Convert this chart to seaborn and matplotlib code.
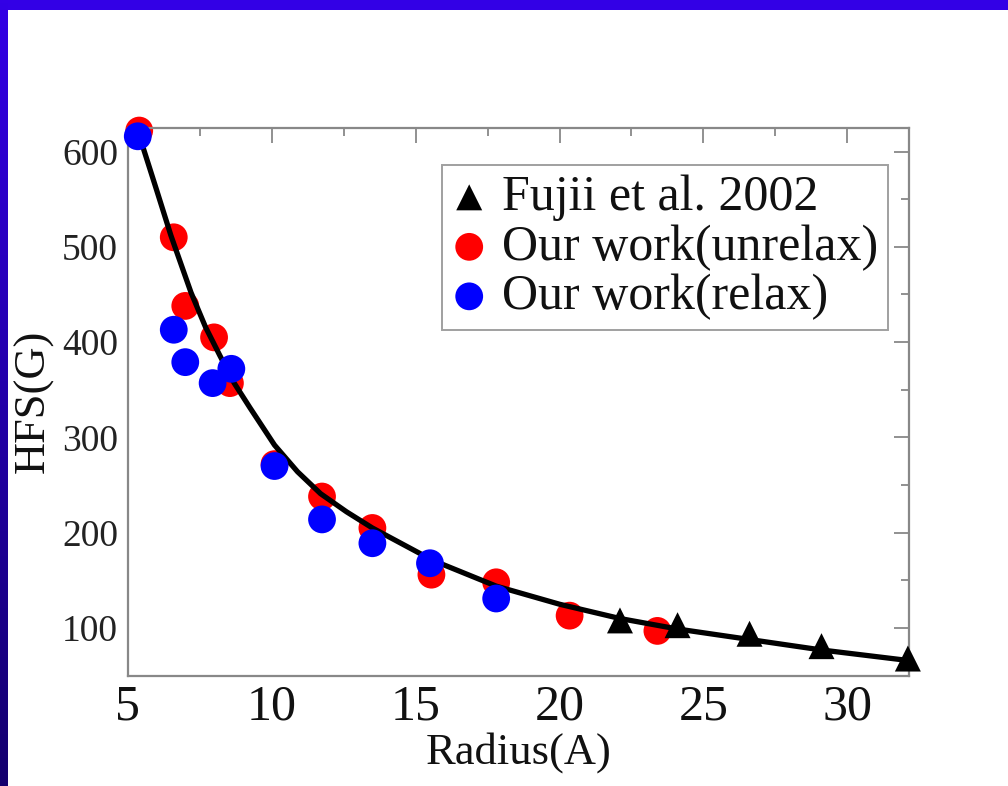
import numpy as np
import pandas as pd
import matplotlib
matplotlib.use("Agg")
import matplotlib.pyplot as plt
import seaborn as sns

# values
fujii_r = [22.1, 24.1, 26.6, 29.1, 32.1]
fujii_hfs = [108, 103, 94, 81, 68]

unrelax_r = [5.4, 6.6, 7.0, 8.0, 8.55, 10.1, 11.75, 13.5, 15.55, 17.8, 20.35, 23.4]
unrelax_hfs = [622, 510, 438, 405, 357, 272, 238, 205, 156, 148, 113, 97]

relax_r = [5.35, 6.6, 7.0, 7.95, 8.6, 10.1, 11.75, 13.5, 15.5, 17.8]
relax_hfs = [616, 413, 379, 357, 372, 270, 214, 189, 168, 131]

fit_r = [5.4, 6.0, 6.5, 7.2, 7.7, 8.2, 8.7, 9.25, 10.1, 10.9, 11.7, 12.6, 13.5, 15.6, 17.8, 20.0, 22.1, 24.1, 26.6, 29.1, 32.1]
fit_hfs = [617, 560, 512, 452, 416, 386, 357, 331, 292, 264, 241, 222, 205, 171, 144, 125, 110, 99, 88, 77, 66]

sns.set_theme(style="white")
plt.rcParams["font.family"] = ["Liberation Serif", "DejaVu Serif"]

W, H = 1008, 786
fig = plt.figure(figsize=(W / 100, H / 100), dpi=100, facecolor="white")

# slide frame: top band and left gradient band
top_band = fig.add_axes([0, 1 - 10 / H, 1, 10 / H])
top_band.set_facecolor("#3300e6")
top_band.set_xticks([])
top_band.set_yticks([])
for s in top_band.spines.values():
    s.set_visible(False)

left_band = fig.add_axes([0, 0, 8 / W, 1])
grad = np.linspace(0, 1, 256)[:, None]
c_top = np.array([0x33, 0x00, 0xe6]) / 255
c_bot = np.array([0x14, 0x00, 0x6e]) / 255
img = (c_top[None, None, :] * (1 - grad[:, :, None]) + c_bot[None, None, :] * grad[:, :, None])
left_band.imshow(img, aspect="auto", extent=[0, 1, 0, 1])
left_band.set_axis_off()

ax = fig.add_axes([127.7 / W, 1 - 675.7 / H, (909.3 - 127.7) / W, (675.7 - 127.7) / H])
ax.set_facecolor("white")

sns.scatterplot(x=unrelax_r, y=unrelax_hfs, ax=ax, color="#ff0000", s=400,
                edgecolor="none", label="Our work(unrelax)", zorder=2, clip_on=False)
sns.lineplot(x=fit_r, y=fit_hfs, ax=ax, color="black", linewidth=3.8,
             sort=True, zorder=3)
sns.scatterplot(x=fujii_r, y=fujii_hfs, ax=ax, color="black", marker="^", s=350,
                edgecolor="none", label="Fujii et al. 2002", zorder=4, clip_on=False)
sns.scatterplot(x=relax_r, y=relax_hfs, ax=ax, color="#0000ff", s=400,
                edgecolor="none", label="Our work(relax)", zorder=5, clip_on=False)

ax.set_xlim(5, 32.15)
ax.set_ylim(50, 625)
ax.set_xticks([5, 10, 15, 20, 25, 30])
ax.set_xticks(np.arange(7.5, 32, 5), minor=True)
ax.set_yticks([100, 200, 300, 400, 500, 600])
ax.set_yticks(np.arange(50, 625, 100), minor=True)

for s in ax.spines.values():
    s.set_color("#888888")
    s.set_linewidth(1.6)

ax.tick_params(which="both", direction="in", top=True, right=True,
               color="#888888", width=1.3)
ax.tick_params(which="major", length=11)
ax.tick_params(which="minor", length=6)
ax.tick_params(axis="x", which="major", labelsize=36, pad=6, labelcolor="#111111")
ax.tick_params(axis="y", which="major", labelsize=27, pad=7, labelcolor="#222222")

ax.set_xlabel("Radius(A)", fontsize=32, labelpad=1, color="#111111")
ax.set_ylabel("HFS(G)", fontsize=32, labelpad=6, color="#111111")

handles, labels = ax.get_legend_handles_labels()
order = [labels.index("Fujii et al. 2002"), labels.index("Our work(unrelax)"),
         labels.index("Our work(relax)")]
leg = ax.legend([handles[i] for i in order], [labels[i] for i in order],
                loc="upper right", bbox_to_anchor=(0.9727, 0.932),
                borderaxespad=0, fontsize=36, frameon=True, fancybox=False,
                handlelength=0.7, handletextpad=0.3, labelspacing=0.06,
                borderpad=0.2, markerscale=1.0)
leg.get_frame().set_edgecolor("#888888")
leg.get_frame().set_linewidth(1.4)
for t in leg.get_texts():
    t.set_color("#111111")

fig.savefig("out.png", dpi=100, facecolor="white")
